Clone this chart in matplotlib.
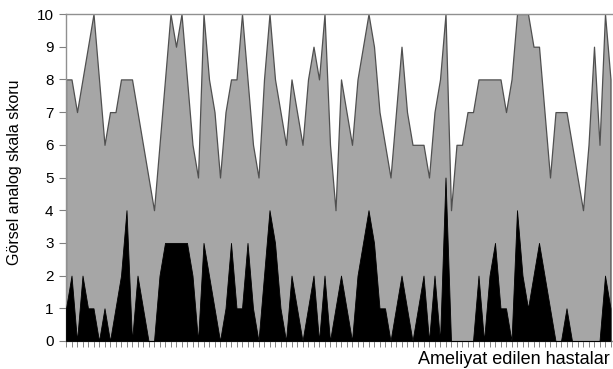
import matplotlib
matplotlib.use("Agg")
import matplotlib.pyplot as plt
import numpy as np

# pre-op (gray) and post-op (black) VAS scores, one value per patient
preop_vas = [8, 8, 7, 8, 9, 10, 8, 6, 7, 7,
             8, 8, 8, 7, 6, 5, 4, 6, 8, 10,
             9, 10, 8, 6, 5, 10, 8, 7, 5, 7,
             8, 8, 10, 8, 6, 5, 8, 10, 8, 7,
             6, 8, 7, 6, 8, 9, 8, 10, 6, 4,
             8, 7, 6, 8, 9, 10, 9, 7, 6, 5,
             7, 9, 7, 6, 6, 6, 5, 7, 8, 10,
             4, 6, 6, 7, 7, 8, 8, 8, 8, 8,
             7, 8, 10, 10, 10, 9, 9, 7, 5, 7,
             7, 7, 6, 5, 4, 6, 9, 6, 10, 8]
postop_vas = [1, 2, 0, 2, 1, 1, 0, 1, 0, 1,
              2, 4, 0, 2, 1, 0, 0, 2, 3, 3,
              3, 3, 3, 2, 0, 3, 2, 1, 0, 1,
              3, 1, 1, 3, 1, 0, 2, 4, 3, 1,
              0, 2, 1, 0, 1, 2, 0, 2, 0, 1,
              2, 1, 0, 2, 3, 4, 3, 1, 1, 0,
              1, 2, 1, 0, 1, 2, 0, 2, 0, 5,
              0, 0, 0, 0, 0, 2, 0, 2, 3, 1,
              1, 0, 4, 2, 1, 2, 3, 2, 1, 0,
              0, 1, 0, 0, 0, 0, 0, 0, 2, 1]
y_ticks = list(range(0, 11))

patients = np.arange(len(preop_vas))

plt.rcParams['font.family'] = ['Liberation Sans', 'DejaVu Sans']

fig = plt.figure(figsize=(6.13, 3.69), dpi=100)
ax = fig.add_axes([66 / 613, 1 - 341 / 369, 1 - 66 / 613, (341 - 14) / 369])

ax.fill_between(patients, 0, preop_vas, facecolor="#a6a6a6", edgecolor="#505050",
                linewidth=0.9, zorder=2)
ax.fill_between(patients, 0, postop_vas, facecolor="black", edgecolor="black",
                linewidth=0.6, zorder=3)

ax.set_xlim(0, (613 - 66) / 5.5)
ax.set_ylim(0, 10)
ax.set_yticks(y_ticks)
ax.set_xticks(patients)
ax.set_xticklabels([])
ax.tick_params(axis="y", labelsize=11, length=5, width=0.8, color="#808080", pad=4)
ax.tick_params(axis="x", length=4, width=0.6, color="#707070", direction="out")

for side in ["left", "top", "bottom"]:
    ax.spines[side].set_color("#909090")
    ax.spines[side].set_linewidth(1.0)
ax.spines["right"].set_visible(False)

fig.text(15 / 613, 1 - 172 / 369, "Görsel analog skala skoru", rotation=90,
         ha="center", va="center", fontsize=11.5)
fig.text(418 / 613, 1 - 359 / 369, "Ameliyat edilen hastalar", ha="left",
         va="center", fontsize=13)

fig.savefig("out.png", dpi=100)
